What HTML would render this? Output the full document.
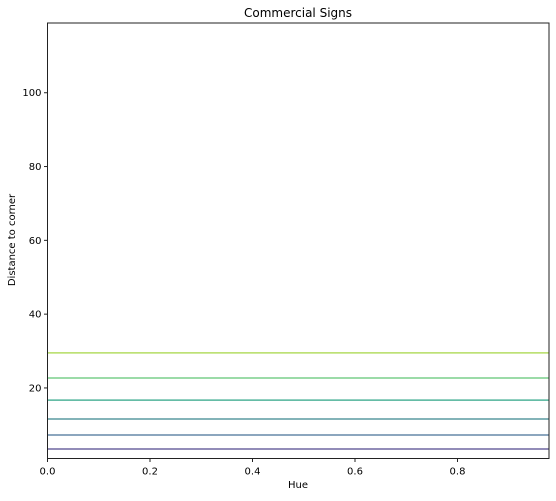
<!DOCTYPE html>
<html><head><meta charset="utf-8"><style>
body{margin:0;background:#fff;font-family:"Liberation Sans","DejaVu Sans",sans-serif;}
svg text{font-family:"DejaVu Sans","Liberation Sans",sans-serif;}
</style></head><body>
<svg id="chart" width="556" height="496" xmlns="http://www.w3.org/2000/svg">
<rect width="556" height="496" fill="#fff"/>
<text x="298" y="17" text-anchor="middle" font-size="12">Commercial Signs</text>
<text x="298" y="488" text-anchor="middle" font-size="10">Hue</text>
<text x="15" y="240" text-anchor="middle" font-size="10" transform="rotate(-90 15 240)">Distance to corner</text>
<g id="ticks"></g>
<g id="lines"></g>
<rect x="47.5" y="23" width="501.5" height="435.5" fill="none" stroke="#222" stroke-width="1"/>
</svg>
<script>
const levels=[3.46,7.25,11.6,16.7,22.7,29.5];
const colors=["#6f66a0","#6788a8","#5a9aa0","#4fb39a","#7acf8b","#b5dd63"];
const xTicks=[0,0.2,0.4,0.6,0.8];
const xTickLabels=["0.0","0.2","0.4","0.6","0.8"];
const yTicks=[20,40,60,80,100];
const yTickLabels=["20","40","60","80","100"];
const X0=47.5,X1=549,Y0=458.5,Y1=23;
const xMin=0,xMax=0.9785,yMin=0.88,yMax=118.9;
const sx=v=>X0+(v-xMin)/(xMax-xMin)*(X1-X0);
const sy=v=>Y0-(v-yMin)/(yMax-yMin)*(Y0-Y1);
const NS="http://www.w3.org/2000/svg";
const tg=document.getElementById('ticks'),lg=document.getElementById('lines');
function mk(t,a,p){const e=document.createElementNS(NS,t);for(const k in a)e.setAttribute(k,a[k]);p.appendChild(e);return e;}
xTicks.forEach((v,i)=>{
 const l=mk('line',{x1:sx(v),x2:sx(v),y1:Y0,y2:Y0+3.5,stroke:'#222'},tg);
 
 
 const t=mk('text',{x:sx(v),y:Y0+16,'text-anchor':'middle','font-size':'10'},tg);t.textContent=xTickLabels[i];
 
 
});
yTicks.forEach((v,i)=>{
 const l=mk('line',{x1:X0-3.5,x2:X0,y1:sy(v),y2:sy(v),stroke:'#222'},tg);
 
 
 const t=mk('text',{x:X0-6,y:sy(v)+3.5,'text-anchor':'end','font-size':'10'},tg);t.textContent=yTickLabels[i];
 
 
});
levels.forEach((v,i)=>{
 const l=mk('line',{x1:X0,x2:X1,y1:sy(v),y2:sy(v),stroke:colors[i],'stroke-width':1.5},lg);
 
 
});
</script>
</body></html>
